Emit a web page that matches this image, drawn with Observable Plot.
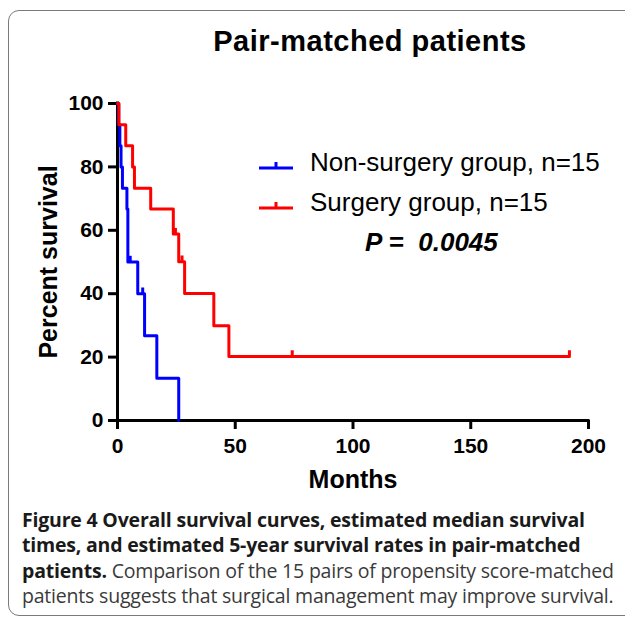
<!DOCTYPE html>
<html><head><meta charset="utf-8">
<script src="https://cdn.jsdelivr.net/npm/d3@7"></script>
<script src="https://cdn.jsdelivr.net/npm/@observablehq/plot@0.6"></script>
<style>
html,body{margin:0;padding:0;background:#fff;}
#wrap{position:relative;width:625px;height:619px;overflow:hidden;font-family:"Liberation Sans",Arial,sans-serif;}
#frame{position:absolute;left:8px;top:10px;width:680px;height:606px;border:1.5px solid #7a7a7a;border-radius:11px;box-sizing:border-box;}
#chart{position:absolute;left:0;top:0;}
#title{position:absolute;left:0;width:740px;top:25px;text-align:center;font-weight:bold;font-size:29px;letter-spacing:0.5px;color:#000;}
.leg{position:absolute;left:258px;font-size:26px;color:#000;white-space:nowrap;}
.leg svg{vertical-align:middle;margin-right:16px;}
#pval{position:absolute;left:365px;top:227px;font-size:26px;font-weight:bold;font-style:italic;white-space:pre;}
#caption{position:absolute;left:22px;top:507px;width:610px;font-family:"Open Sans",sans-serif;font-size:19.5px;line-height:25.3px;color:#3a3a3a;white-space:nowrap;letter-spacing:-0.2px;}
#caption b{color:#1a1a1a;}
</style></head>
<body>
<div id="wrap">
  <div id="frame"></div>
  <div id="chart"></div>
  <div id="title">Pair-matched patients</div>
  <div class="leg" id="leg1"></div>
  <div class="leg" id="leg2"></div>
  <div id="pval">P =  0.0045</div>
  <div id="caption"><b>Figure 4 Overall survival curves, estimated median survival<br>times, and estimated 5-year survival rates in pair-matched<br>patients.</b> Comparison of the 15 pairs of propensity score-matched<br>patients suggests that surgical management may improve survival.</div>
</div>
<script>
// ---- data ----
const seriesNames = ["Non-surgery group, n=15", "Surgery group, n=15"];
const seriesColors = ["#0000ff", "#ff0000"];

// Non-surgery group: step times (months) and survival (%)
const nonSurgeryTimes = [0, 0.5, 1.0, 1.5, 2.1, 4.0, 4.4, 8.6, 11.5, 16.7, 26.0];
const nonSurgerySurv  = [100, 93.3, 86.7, 80, 73.3, 66.7, 50, 40, 26.7, 13.3, 0];
const nonSurgeryCensorTimes = [5.4, 10.7];
const nonSurgeryCensorSurv  = [50, 40];

// Surgery group
const surgeryTimes = [0, 0.6, 3.5, 6.4, 7.2, 14.1, 23.7, 26.0, 28.5, 40.9, 47.3, 191.9];
const surgerySurv  = [100, 93.3, 86.7, 80, 73.3, 66.7, 58.8, 50.1, 40.1, 29.9, 20.2, 20.2];
const surgeryCensorTimes = [24.6, 27.4, 74.2, 191.9];
const surgeryCensorSurv  = [58.8, 50.1, 20.2, 20.2];

const xTicks = [0, 50, 100, 150, 200];
const yTicks = [0, 20, 40, 60, 80, 100];
const xLabel = "Months";
const yLabel = "Percent survival";

// ---- build tables ----
const steps = [
  ...nonSurgeryTimes.map((t, i) => ({t, s: nonSurgerySurv[i], g: seriesNames[0]})),
  ...surgeryTimes.map((t, i) => ({t, s: surgerySurv[i], g: seriesNames[1]}))
];
const censors = [
  ...nonSurgeryCensorTimes.map((t, i) => ({t, s: nonSurgeryCensorSurv[i], g: seriesNames[0]})),
  ...surgeryCensorTimes.map((t, i) => ({t, s: surgeryCensorSurv[i], g: seriesNames[1]}))
];

const font = "Liberation Sans, Arial, sans-serif";
const chart = Plot.plot({
  width: 625,
  height: 500,
  marginLeft: 117,
  marginRight: 37,
  marginTop: 103,
  marginBottom: 80,
  style: {fontFamily: font, fontSize: "21px", fontWeight: "bold", background: "transparent", color: "#000", overflow: "visible"},
  x: {domain: [0, 200]},
  y: {domain: [0, 100]},
  color: {domain: seriesNames, range: seriesColors},
  marks: [
    Plot.ruleY([0], {stroke: "#000", strokeWidth: 3, strokeLinecap: "square"}),
    Plot.ruleX([0], {stroke: "#000", strokeWidth: 3, strokeLinecap: "square"}),
    Plot.axisX({ticks: xTicks, tickSize: 9, tickPadding: 9, strokeWidth: 3, label: null, fontSize: 21, fontWeight: "bold", tickFormat: d => String(d)}),
    Plot.axisY({ticks: yTicks, tickSize: 9, tickPadding: 5, strokeWidth: 3, label: null, fontSize: 21, fontWeight: "bold", tickFormat: d => String(d)}),
    Plot.line(steps, {x: "t", y: "s", z: "g", stroke: "g", strokeWidth: 3, curve: "step-after"}),
    Plot.ruleX(censors, {x: "t", y1: "s", y2: d => d.s + 1.8, stroke: "g", strokeWidth: 3}),
    Plot.text([xLabel], {frameAnchor: "bottom", dy: 67, fontSize: 25, fontWeight: "bold", fill: "#000"}),
    Plot.text([yLabel], {frameAnchor: "left", textAnchor: "middle", lineAnchor: "middle", dx: -69, rotate: -90, fontSize: 25, fontWeight: "bold", fill: "#000"})
  ]
});
document.getElementById("chart").appendChild(chart);

// legend
function swatch(color) {
  return `<svg width="36" height="14" viewBox="0 0 36 14"><line x1="1" y1="11" x2="35" y2="11" stroke="${color}" stroke-width="3"/><line x1="18" y1="11" x2="18" y2="5" stroke="${color}" stroke-width="3"/></svg>`;
}
const l1 = document.getElementById("leg1");
l1.style.top = "147px";
l1.innerHTML = swatch(seriesColors[0]) + seriesNames[0];
const l2 = document.getElementById("leg2");
l2.style.top = "187px";
l2.innerHTML = swatch(seriesColors[1]) + seriesNames[1];
</script>
</body></html>
